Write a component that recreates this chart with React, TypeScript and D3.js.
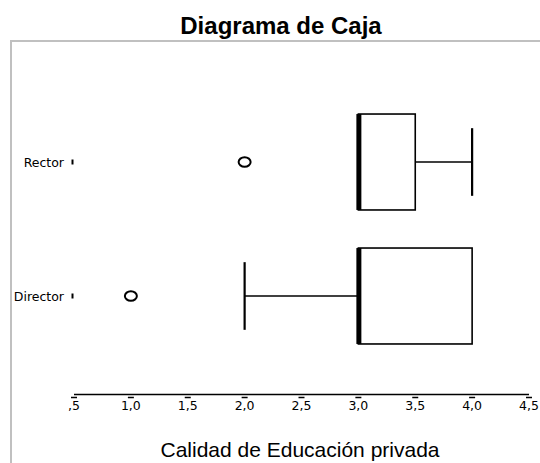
import React from "react";
import * as d3 from "d3";

const title = "Diagrama de Caja";
const xTitle = "Calidad de Educación privada";
const categories = ["Rector", "Director"];
const q1 = [3.0, 3.0];
const median = [3.0, 3.0];
const q3 = [3.5, 4.0];
const whiskerLow = [3.0, 2.0];
const whiskerHigh = [4.0, 4.0];
const outliers = [[2.0], [1.0]];
const tickValues = [0.5, 1.0, 1.5, 2.0, 2.5, 3.0, 3.5, 4.0, 4.5];
const tickLabels = [",5", "1,0", "1,5", "2,0", "2,5", "3,0", "3,5", "4,0", "4,5"];

export default function App() {
  const W = 540, H = 463;
  const font = "'Liberation Sans', Arial, sans-serif";
  const smallFont = "'DejaVu Sans', Verdana, sans-serif";
  const x = d3.scaleLinear().domain([0.5, 4.5]).range([74, 529]);
  const y = d3.scaleBand().domain(categories).range([95, 363]).padding(0);
  const bw = y.bandwidth();
  const boxH = bw * 0.716;
  const capH = bw * 0.505;
  const axisY = 394.5;

  return (
    <svg width={W} height={H} style={{ position: "absolute", left: 0, top: 0 }}>
      <rect x={0} y={0} width={W} height={H} fill="#fff" />
      <rect x={11} y={41} width={W} height={H} fill="none" stroke="#c0c0c0" strokeWidth={2} />
      <text x={281} y={34} textAnchor="middle" fontFamily={font} fontWeight="bold" fontSize={24}>
        {title}
      </text>
      {categories.map((c, i) => {
        const cy = (y(c) as number) + bw / 2;
        return (
          <g key={c}>
            <text x={64} y={cy + 4.5} textAnchor="end" fontFamily={smallFont} fontSize={12.5}>{c}</text>
            <line x1={x(0.5) - 1.5} x2={x(0.5) - 1.5} y1={cy - 2.5} y2={cy + 2.5} stroke="#000" strokeWidth={2} />
            {whiskerLow[i] < q1[i] && (
              <>
                <line x1={x(whiskerLow[i])} x2={x(q1[i])} y1={cy} y2={cy} stroke="#000" strokeWidth={1.5} />
                <line x1={x(whiskerLow[i])} x2={x(whiskerLow[i])} y1={cy - capH / 2} y2={cy + capH / 2} stroke="#000" strokeWidth={2.2} />
              </>
            )}
            {whiskerHigh[i] > q3[i] && (
              <>
                <line x1={x(q3[i])} x2={x(whiskerHigh[i])} y1={cy} y2={cy} stroke="#000" strokeWidth={1.5} />
                <line x1={x(whiskerHigh[i])} x2={x(whiskerHigh[i])} y1={cy - capH / 2} y2={cy + capH / 2} stroke="#000" strokeWidth={2.2} />
              </>
            )}
            <rect x={x(q1[i])} y={cy - boxH / 2} width={x(q3[i]) - x(q1[i])} height={boxH} fill="#fff" stroke="#000" strokeWidth={1.6} />
            <line x1={x(median[i]) + 0.5} x2={x(median[i]) + 0.5} y1={cy - boxH / 2} y2={cy + boxH / 2} stroke="#000" strokeWidth={5} />
            {outliers[i].map((o, j) => (
              <ellipse key={j} cx={x(o)} cy={cy} rx={6} ry={4.8} fill="none" stroke="#000" strokeWidth={2} />
            ))}
          </g>
        );
      })}
      <line x1={x(0.5)} x2={x(4.5)} y1={axisY} y2={axisY} stroke="#000" strokeWidth={1.6} />
      {tickValues.map((t, i) => (
        <g key={t}>
          <line x1={x(t) - 3} x2={x(t) + 3} y1={397.5} y2={397.5} stroke="#000" strokeWidth={1.5} />
          <text x={x(t)} y={410} textAnchor="middle" fontFamily={smallFont} fontSize={12.5}>{tickLabels[i]}</text>
        </g>
      ))}
      <text x={300} y={457} textAnchor="middle" fontFamily={font} fontSize={21}>{xTitle}</text>
    </svg>
  );
}
